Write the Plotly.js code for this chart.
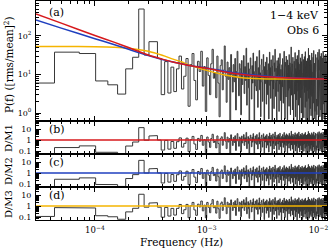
<!DOCTYPE html>
<html><head><meta charset="utf-8">
<script src="https://cdn.plot.ly/plotly-3.0.1.min.js"></script>
<style>html,body{margin:0;padding:0;background:#fff}#chart{width:330px;height:249px}</style>
</head><body><div id="chart"></div>
<script>
// ---- data ----
const binWidth = 2.9e-5; // Hz, frequency resolution of the periodogram
const power = [
  6, 38, 35, 6.8, 5.4, 3.1, 14, 28, 500, 32, 71, 71, 26, 3.0, 21.6, 3.3, 15.5,
  3.6, 14, 30, 4.2, 9, 26, 1.5, 18, 35, 7, 2.2, 22, 12, 40, 5, 16, 1.1, 27, 9.5, 3, 19, 45, 8,
  11, 2.5, 30, 6, 0.8, 17, 24, 4, 13, 55, 9, 1.9, 21, 7.5, 15, 0.5, 33, 10, 3.5, 18,
  6.5, 26, 1.2, 12, 40, 8, 2.8, 19, 14, 0.9, 23, 5.5, 11, 31, 3.2, 16, 7, 48, 1.6, 9,
  20, 4.5, 0.6, 14, 27, 8.5, 2.3, 17, 6, 36, 10, 0.35, 12, 22, 5, 3.8, 29, 9.5, 1.4, 15,
  7.2, 42, 4, 11, 0.8, 18, 25, 6.3, 2, 13, 33, 8, 0.45, 16, 5.8, 21, 10.5, 1.7, 28, 7.8,
  3, 13, 19, 0.7, 9.2, 38, 5.2, 15, 2.4, 24, 11, 6.8, 0.3, 17, 31, 4.2, 8.8, 1.3, 20, 12,
  45, 6, 2.7, 14.5, 9.8, 0.55, 23, 7, 16.5, 3.6, 27, 10, 1.1, 5.5, 19.5, 35, 8.2, 2.1, 13.5, 6.6,
  0.25, 18, 11.5, 4.8, 26, 9, 1.8, 14, 7.5, 40, 3.3, 12.5, 0.7, 21, 6.2, 16, 2.6, 30, 8.7, 5,
  10.8, 0.4, 24, 13, 3.9, 17.5, 7.1, 1.5, 33, 9.4, 4.4, 20, 11, 0.9, 15.5, 6.9, 52, 2.9, 12, 8,
  19, 1.2, 7.7, 28, 4.6, 13.8, 0.5, 10.2, 22, 6.4, 3.1, 17, 37, 8.6, 0.8, 14.2, 5.3, 25, 2.2, 11.7,
  9, 0.35, 31, 6.1, 15, 3.7, 20.5, 7.4, 1.6, 43, 10.6, 4.9, 13.1, 0.65, 18.5, 8.3, 2.5, 27, 5.7, 12.8,
  7, 1, 21.5, 9.6, 4.1, 34, 11.3, 0.45, 16.2, 6.7, 2.8, 24.5, 8.1, 13.6, 0.75, 19, 5.1, 29, 3.4, 10.4,
  7.6, 1.4, 39, 12.2, 4.7, 15.8, 0.55, 8.9, 22.5, 6.3, 2, 17.8, 11, 3.8, 26, 9.2, 0.3, 14.6, 5.9, 48,
  8.4, 2.4, 12.4, 20, 0.6, 7.3, 31.5, 4.3, 16.8, 10, 1.3, 23.5, 6.8, 3, 13.4, 0.85, 18.2, 9.7, 5.4, 36,
  2.7, 11.5, 7.9, 0.4, 21, 14.1, 4.5, 28, 8.8, 1.8, 16.4, 6, 42, 3.5, 12.1, 0.7, 19.8, 9.3, 5, 25.5,
  1.1, 13, 7.5, 3.2, 33, 10.9, 0.5, 17.2, 6.5, 22, 2.3, 14.8, 8.6, 0.9, 27.5, 5.6, 11.8, 4, 19.4, 1.5,
  38, 9.1, 6.2, 15.3, 0.35, 24, 7.8, 3.3, 12.9, 45, 2.1, 18.6, 10.1, 5.3, 0.8, 21.8, 8.2, 13.7, 3.9, 29.5,
  6.9, 1.2, 16.1, 9.9, 4.6, 35.5, 11.4, 0.6, 20.3, 7.2, 2.6, 14, 26.5, 5.8, 0.45, 12.6, 8.5, 17.9, 3.1, 40.5,
  10.3, 1.7, 23, 6.4, 13.3, 4.2, 31, 0.7, 9.5, 15.7, 2.9, 19.1, 7.7, 11.9, 0.4, 27, 5.2, 14.4, 8, 1.9,
  34, 10.7, 3.6, 18.3, 6.6, 22.7, 0.95, 12.3, 9, 4.4, 16.6, 7.4
];
// model curves
const modelFreq = [2.97e-5, 5e-5, 1e-4, 1.5e-4, 2e-4, 3e-4, 4e-4, 5e-4, 6e-4, 7e-4, 1e-3, 1.5e-3, 2e-3, 3e-3, 5e-3, 1.2e-2];
const model1 = [372, 215, 103, 68, 50, 32, 25, 21, 18.8, 17, 14.5, 11.5, 10.2, 9, 8.2, 7.6];   // red
const model2 = [260, 160, 85, 59, 45, 31, 24.5, 21, 19, 17.2, 14.8, 12, 10.6, 9.4, 8.4, 7.7];  // blue
const model3 = [53, 53, 52.5, 51, 48, 40, 31.5, 25, 21, 17.5, 12.8, 9.5, 8.3, 7.7, 7.6, 7.6];  // yellow
const modelColors = ['#d7191c', '#1f3fbf', '#f5b400'];
const xTickVals = [1e-4, 1e-3, 1e-2];
const xTickText = ['10<sup>\u22124</sup>', '10<sup>\u22123</sup>', '10<sup>\u22122</sup>'];
const pTickVals = [1, 10, 100];
const pTickText = ['10<sup>0</sup>', '10<sup>1</sup>', '10<sup>2</sup>'];
const rTickVals = [0.1, 1, 10];
const rTickText = ['0.1', '1', '10'];
const panelLabels = ['(a)', '(b)', '(c)', '(d)'];
const ratioTitles = ['D/M1', 'D/M2', 'D/M3'];

// ---- helpers ----
function minorTicks(e0, e1) { const a = []; for (let e = e0; e <= e1; e++) for (let m = 2; m <= 9; m++) a.push(m * Math.pow(10, e)); return a; }
function interpModel(vals, f) {
  const lf = Math.log10(f);
  for (let i = 0; i < modelFreq.length - 1; i++) {
    const a = Math.log10(modelFreq[i]), b = Math.log10(modelFreq[i + 1]);
    if (lf <= b || i === modelFreq.length - 2) {
      const t = (lf - a) / (b - a);
      return Math.pow(10, Math.log10(vals[i]) + t * (Math.log10(vals[i + 1]) - Math.log10(vals[i])));
    }
  }
}
function steps(vals) {
  const xs = [], ys = [];
  vals.forEach((v, i) => { xs.push((i + 0.5) * binWidth, (i + 1.5) * binWidth); ys.push(v, v); });
  return {xs, ys};
}
const FONT = 'DejaVu Serif';
const dataColor = '#383838';
const traces = [];
const s = steps(power);
traces.push({x: s.xs, y: s.ys, xaxis: 'x', yaxis: 'y', mode: 'lines', line: {color: dataColor, width: 1}, hoverinfo: 'skip'});
[model3, model2, model1].forEach((m, j) => {
  const idx = 2 - j;
  traces.push({x: modelFreq, y: m, xaxis: 'x', yaxis: 'y', mode: 'lines', line: {color: modelColors[idx], width: 1.5, shape: 'spline', smoothing: 0.8}, hoverinfo: 'skip'});
});
[model1, model2, model3].forEach((m, j) => {
  const ratio = power.map((v, i) => v / interpModel(m, (i + 1) * binWidth));
  const r = steps(ratio);
  const ax = String(j + 2);
  traces.push({x: r.xs, y: r.ys, xaxis: 'x' + ax, yaxis: 'y' + ax, mode: 'lines', line: {color: dataColor, width: 1}, hoverinfo: 'skip'});
  traces.push({x: [modelFreq[0], modelFreq[modelFreq.length - 1]], y: [1, 1], xaxis: 'x' + ax, yaxis: 'y' + ax, mode: 'lines', line: {color: modelColors[j], width: 1.5}, hoverinfo: 'skip'});
});

const H = 219, B = 29;
const tickFont = {family: FONT, size: 8, color: '#000'};
function xAxis(anchor, labels) {
  return {type: 'log', range: [-4.527, -1.924], anchor: anchor, domain: [0, 1], showline: true, linecolor: '#000', linewidth: 1,
    mirror: 'allticks', ticks: 'inside', ticklen: 5, tickwidth: 1, tickcolor: '#000', tickmode: 'array', tickvals: xTickVals, ticktext: xTickText,
    showticklabels: labels, tickfont: {family: FONT, size: 8.5, color: '#000'}, showgrid: false, zeroline: false, ticklabelstandoff: 2,
    minor: {tickmode: 'array', tickvals: minorTicks(-5, -2), ticks: 'inside', ticklen: 3, tickcolor: '#000', showgrid: false}};
}
function yAxis(anchor, dom, range, tv, tt, minor) {
  return {type: 'log', range: range, anchor: anchor, domain: dom, showline: true, linecolor: '#000', linewidth: 1,
    mirror: 'allticks', ticks: 'inside', ticklen: 5, tickwidth: 1, tickcolor: '#000', tickmode: 'array', tickvals: tv, ticktext: tt,
    tickfont: tickFont, showgrid: false, zeroline: false, ticklabelstandoff: 2,
    minor: {tickmode: 'array', tickvals: minor, ticks: 'inside', ticklen: 3, tickcolor: '#000', showgrid: false}};
}
const px = x => (x - 36) / 291.5;
const py = y => (220 - y) / H;
const ann = [];
function addText(t, x, y, size, opts) {
  ann.push(Object.assign({text: t, xref: 'paper', yref: 'paper', x: px(x), y: py(y), xanchor: 'center', yanchor: 'middle',
    showarrow: false, font: {family: FONT, size: size, color: '#000'}}, opts || {}));
}
const labY = [12, 129, 162, 195];
panelLabels.forEach((t, i) => addText(t, 57, labY[i], 11));
addText('1\u22124 keV', 321, 15, 11, {xanchor: 'right'});
addText('Obs 6', 321, 30, 11, {xanchor: 'right'});
addText('P(f) ([rms/mean]<sup>2</sup>)', 8, 65, 10.5, {textangle: -90});
const rtY = [138, 171, 204];
ratioTitles.forEach((t, i) => addText(t, 8, rtY[i], 10, {textangle: -90}));
addText('Frequency (Hz)', 181.75, 242, 10.5);

const rRange = [-1.27, 1.73];
const rMinor = minorTicks(-2, 1);
const layout = {
  width: 330, height: 249, margin: {l: 36, r: 2.5, t: 1, b: B, pad: 0},
  paper_bgcolor: '#fff', plot_bgcolor: '#fff', showlegend: false,
  xaxis: xAxis('y', false), xaxis2: xAxis('y2', false), xaxis3: xAxis('y3', false), xaxis4: xAxis('y4', true),
  yaxis: yAxis('x', [99 / H, 1], [-0.207, 2.907], pTickVals, pTickText, minorTicks(-1, 2)),
  yaxis2: yAxis('x2', [66 / H, 99 / H], rRange, rTickVals, rTickText, rMinor),
  yaxis3: yAxis('x3', [33 / H, 66 / H], rRange, rTickVals, rTickText, rMinor),
  yaxis4: yAxis('x4', [0, 33 / H], rRange, rTickVals, rTickText, rMinor),
  annotations: ann
};
Plotly.newPlot('chart', traces, layout, {displayModeBar: false, staticPlot: true});
</script></body></html>
